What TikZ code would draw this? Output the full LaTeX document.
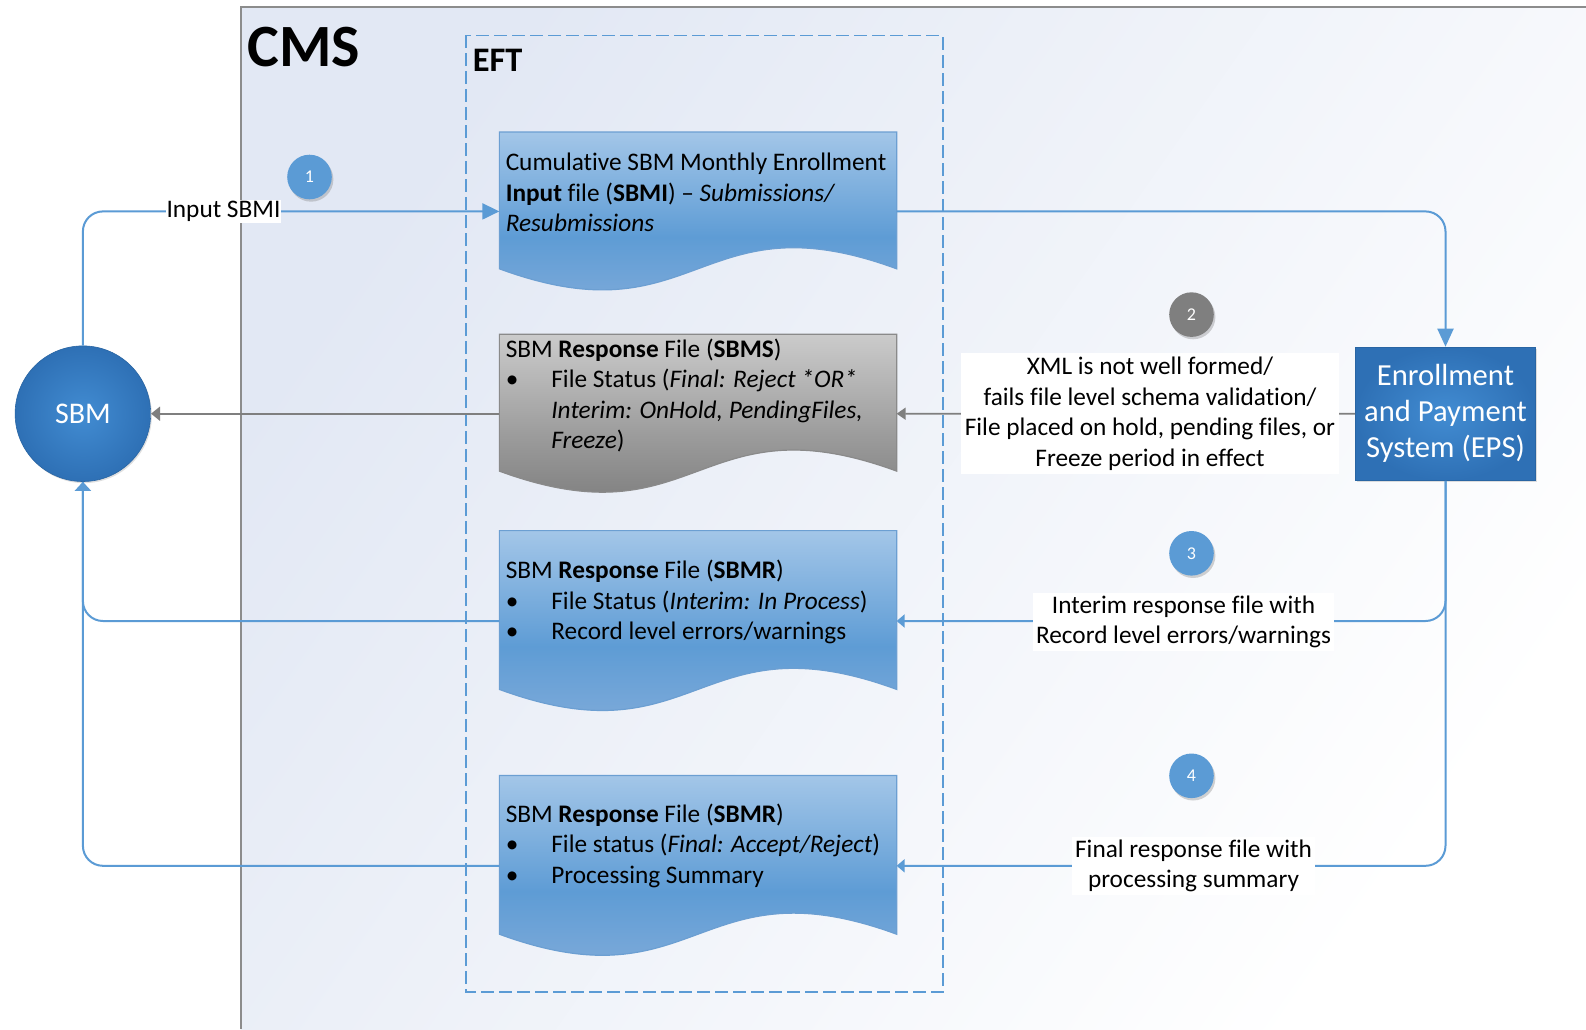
\documentclass[tikz,border=0pt]{standalone}
\usepackage{fontspec}
\setmainfont[Ligatures=NoCommon]{Carlito}
\usetikzlibrary{calc,arrows.meta,shadows}
\definecolor{lblue}{HTML}{5B9BD5}
\definecolor{dblue}{HTML}{2E70B5}
\definecolor{iblue}{HTML}{428CD2}
\definecolor{docTop}{HTML}{A3C6E8}
\definecolor{docMid}{HTML}{5E9CD5}
\definecolor{docBot}{HTML}{8DB1DB}
\definecolor{docEdge}{HTML}{6C9FD2}
\definecolor{grTop}{HTML}{CBCBCB}
\definecolor{grMid}{HTML}{9A9A9A}
\definecolor{grBot}{HTML}{6E6E6E}
\definecolor{grEdge}{HTML}{8A8A8A}
\definecolor{lgray}{HTML}{7F7F7F}
\definecolor{cmsA}{HTML}{E2E8F4}
\newcommand{\bulitem}{\makebox[22.8pt][l]{\textbullet}}
\newcommand{\contind}{\hspace*{22.8pt}}
\newcommand{\docshape}[2]{%
  \path[#2] (#1.north west) -- (#1.north east) -- ([yshift=11pt]#1.south east)
    .. controls ($($(#1.south west)!0.5!(#1.south east)$)+(0pt,47.5pt)$)
    and ($($(#1.south west)!0.5!(#1.south east)$)+(0pt,-25.5pt)$)
    .. ([yshift=11pt]#1.south west) -- cycle;}
\begin{document}
\begin{tikzpicture}[x=0.5pt,y=-0.5pt,
  docbox/.style={draw=none,inner sep=0pt,minimum width=198.25pt},
  bluedoc/.style={top color=docTop,bottom color=docBot,middle color=docMid,draw=docEdge,line width=0.6pt},
  graydoc/.style={top color=grTop,bottom color=grBot,middle color=grMid,draw=grEdge,line width=0.6pt},
  doctext/.style={anchor=north west,inner sep=0pt,align=left,font=\fontsize{12.65}{15.2}\selectfont},
  numc/.style={circle,minimum size=22.3pt,inner sep=0pt,text=white,font=\fontsize{9}{10}\selectfont,
    drop shadow={opacity=0.35,shadow xshift=0.8pt,shadow yshift=-1.2pt}},
  lbl/.style={fill=white,inner sep=1.5pt,align=center,font=\fontsize{12.65}{15.2}\selectfont},
  bline/.style={draw=lblue,line width=1pt,rounded corners=10pt},
  gline/.style={draw=lgray,line width=0.8pt},
]
\useasboundingbox (0,0) rectangle (1586,1029);
\fill[white] (0,0) rectangle (1586,1029);
% CMS region
\shade[top color=cmsA,bottom color=white,shading angle=55] (240.7,7.1) rectangle (1586,1029);
\draw[draw=lgray!90,line width=0.8pt] (240.7,1029) -- (240.7,7.1) -- (1586,7.1);
\node[anchor=base west,inner sep=0pt,font=\fontsize{30}{31}\selectfont\bfseries] (cms) at (247,66) {CMS};
% EFT region
\draw[lblue,line width=0.9pt,dash pattern=on 6.5pt off 2.5pt] (466.3,35.4) rectangle (942.7,992.3);
\node[anchor=base west,inner sep=0pt,font=\fontsize{17.2}{19}\selectfont\bfseries] (eft) at (472.5,71) {EFT};
% documents
\node[docbox,minimum height=79pt] (doc1) at (698,211.4) {};
\node[docbox,minimum height=79pt] (doc2) at (698,413.7) {};
\node[docbox,minimum height=90pt] (doc3) at (698,621) {};
\node[docbox,minimum height=90pt] (doc4) at (698,865.8) {};
\docshape{doc1}{bluedoc}
\docshape{doc2}{graydoc}
\docshape{doc3}{bluedoc}
\docshape{doc4}{bluedoc}
\node[doctext] (t1) at ([xshift=3pt,yshift=-10.5pt]doc1.north west)
  {Cumulative SBM Monthly Enrollment\\\textbf{Input} file (\textbf{SBMI}) – \textit{Submissions/}\\\textit{Resubmissions}};
\node[doctext] (t2) at ([xshift=3pt,yshift=-2pt]doc2.north west)
  {SBM \textbf{Response} File (\textbf{SBMS})\\\bulitem File Status (\textit{Final: Reject *OR*}\\\contind\textit{Interim: OnHold, PendingFiles,}\\\contind\textit{Freeze})};
\node[doctext] (t3) at ([xshift=3pt,yshift=-14.6pt]doc3.north west)
  {SBM \textbf{Response} File (\textbf{SBMR})\\\bulitem File Status (\textit{Interim: In Process})\\\bulitem Record level errors/warnings};
\node[doctext] (t4) at ([xshift=3pt,yshift=-14.1pt]doc4.north west)
  {SBM \textbf{Response} File (\textbf{SBMR})\\\bulitem File status (\textit{Final: Accept/Reject})\\\bulitem Processing Summary};
% SBM and EPS
\node[circle,minimum size=67.8pt,inner sep=0pt,inner color=iblue,outer color=dblue,draw=dblue!90!black,line width=0.3pt,
  text=white,font=\fontsize{15}{17}\selectfont,
  drop shadow={opacity=0.25,shadow xshift=0.6pt,shadow yshift=-0.8pt}] (sbm) at (82.9,413.7) {SBM};
\node[rectangle,minimum width=90pt,minimum height=66.75pt,inner sep=0pt,inner color=iblue,outer color=dblue,
  draw=dblue!90!black,line width=0.3pt,text=white,align=center,font=\fontsize{15.3}{18}\selectfont,
  drop shadow={opacity=0.25,shadow xshift=0.8pt,shadow yshift=-0.8pt}] (eps) at (1445.5,413.75)
  {Enrollment\\and Payment\\System (EPS)};
% numbered circles
\node[numc,fill=lblue] (n1) at (309.5,177) {1};
\node[numc,fill=lgray] (n2) at (1191.5,314.6) {2};
\node[numc,fill=lblue] (n3) at (1191.5,553.3) {3};
\node[numc,fill=lblue] (n4) at (1191.5,775.8) {4};
% connectors
\draw[bline,-{Triangle[length=8.5pt,width=8pt]}] (sbm.north) |- (doc1.west);
\draw[bline,-{Triangle[length=9pt,width=8pt]}] (doc1.east) -| (eps.north);
\draw[gline,-{Triangle[length=4.5pt,width=6pt]}] (eps.west) -- (doc2.east);
\draw[gline,-{Triangle[length=4.5pt,width=7pt]}] (doc2.west) -- (sbm.east);
\draw[bline,-{Triangle[length=4pt,width=6.5pt]}] (eps.south) |- (doc3.east);
\draw[bline,-{Triangle[length=4pt,width=6.5pt]}] (eps.south) |- (doc4.east);
\draw[bline,-{Triangle[length=4.5pt,width=8pt]}] (doc3.west) -| (sbm.south);
\draw[bline] (doc4.west) -| (sbm.south);
% labels
\node[lbl,inner sep=0.5pt] (l1) at (223.5,211.4) {Input SBMI};
\node[lbl,inner sep=2pt] (l2) at (1150,413.7) {XML is not well formed/\\fails file level schema validation/\\File placed on hold, pending files, or\\Freeze period in effect};
\node[lbl] (l3) at (1183.5,622) {Interim response file with\\Record level errors/warnings};
\node[lbl] (l4) at (1193.5,866) {Final response file with\\processing summary};
\end{tikzpicture}
\end{document}
